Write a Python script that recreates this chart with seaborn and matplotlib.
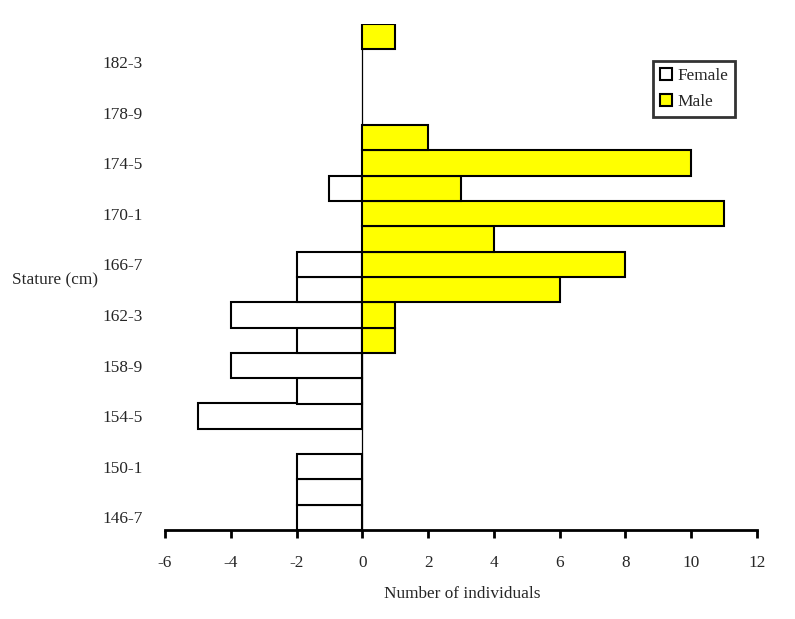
import matplotlib
matplotlib.use("Agg")
import matplotlib.pyplot as plt
from matplotlib.patches import Patch
import seaborn as sns
import pandas as pd

categories = ["146-7", "148-9", "150-1", "152-3", "154-5", "156-7", "158-9", "160-1",
              "162-3", "164-5", "166-7", "168-9", "170-1", "172-3", "174-5", "176-7",
              "178-9", "180-1", "182-3", "184-5"]
female = [-2, -2, -2, 0, -5, -2, -4, -2, -4, -2, -2, 0, 0, -1, 0, 0, 0, 0, 0, 0]
male = [0, 0, 0, 0, 0, 0, 0, 1, 1, 6, 8, 4, 11, 3, 10, 2, 0, 0, 0, 1]
x_ticks = [-6, -4, -2, 0, 2, 4, 6, 8, 10, 12]

rows = []
for c, f, m in zip(categories, female, male):
    if f != 0:
        rows.append({"stature": c, "count": f, "sex": "Female"})
    if m != 0:
        rows.append({"stature": c, "count": m, "sex": "Male"})
df = pd.DataFrame(rows)

sns.set_style("white")
plt.rcParams["font.family"] = ["Liberation Serif", "DejaVu Serif"]
FS = 12.4

fig = plt.figure(figsize=(7.95, 6.19), dpi=100)
ax = fig.add_axes([165/795, 1 - 530/619, (757 - 165)/795, (530 - 24)/619])

sns.barplot(data=df, x="count", y="stature", hue="sex", order=categories,
            hue_order=["Female", "Male"],
            palette={"Female": "white", "Male": "#FFFF00"}, saturation=1,
            dodge=False, width=1.0, edgecolor="black", linewidth=1.5,
            orient="h", legend=False, ax=ax)

if ax.yaxis_inverted():
    ax.invert_yaxis()
ax.set_ylim(-0.5, len(categories) - 0.5)
ax.set_xlim(-6, 12)
ax.axvline(0, color="black", linewidth=0.9, zorder=0.5)

ax.set_xticks(x_ticks)
ax.set_xticklabels([str(v) for v in x_ticks], fontsize=FS)
ax.set_yticks(range(0, len(categories), 2))
ax.set_yticklabels(categories[::2], fontsize=FS)
ax.tick_params(axis="x", direction="out", length=6, width=2, color="black", pad=12, bottom=True)
ax.tick_params(axis="y", length=0, pad=16)

for s in ["top", "right", "left"]:
    ax.spines[s].set_visible(False)
ax.spines["bottom"].set_linewidth(2)
ax.spines["bottom"].set_color("black")
ax.set_xlabel("")
ax.set_ylabel("")
ax.grid(False)

fig.text(12/795, 1 - 280/619, "Stature (cm)", fontsize=FS, ha="left", va="center")
fig.text(462/795, 1 - 594/619, "Number of individuals", fontsize=FS, ha="center", va="center")

handles = [Patch(facecolor="white", edgecolor="black", linewidth=1.5, label="Female"),
           Patch(facecolor="#FFFF00", edgecolor="black", linewidth=1.5, label="Male")]
leg = fig.legend(handles=handles, loc="upper right", bbox_to_anchor=(735/795, 1 - 61/619),
                 fontsize=FS, frameon=True, fancybox=False, handlelength=0.7, handleheight=0.7,
                 handletextpad=0.3, labelspacing=0.6, borderpad=0.4, borderaxespad=0)
leg.get_frame().set_edgecolor("black")
leg.get_frame().set_linewidth(2)

fig.savefig("out.png", dpi=100)
